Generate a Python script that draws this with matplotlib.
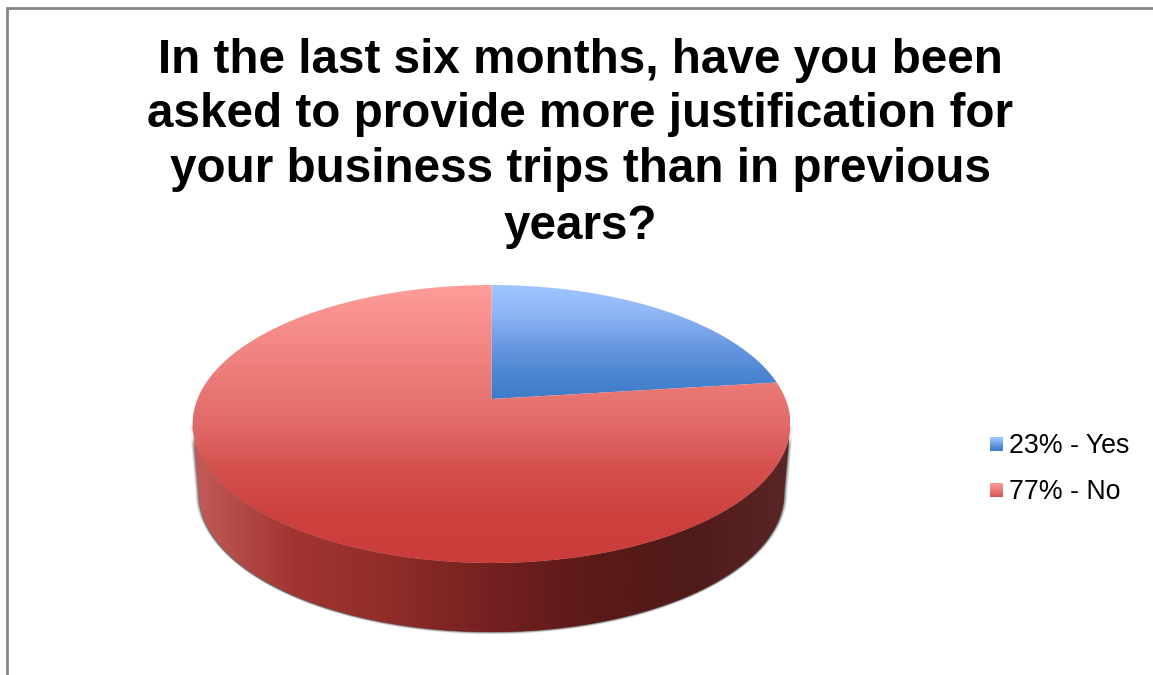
import matplotlib
matplotlib.use('Agg')
import matplotlib.pyplot as plt
from matplotlib.colors import LinearSegmentedColormap
from matplotlib.patches import Polygon
import numpy as np

title_lines = [
    'In the last six months, have you been',
    'asked to provide more justification for',
    'your business trips than in previous',
    'years?',
]
categories = ['Yes', 'No']
shares = [23, 77]

plt.rcParams['font.family'] = ['Liberation Sans', 'DejaVu Sans']

BLUE_TOP = ['#9fc5ff', '#8fb6f6', '#6d9be2', '#4f88d2', '#3d7cc9']
RED_TOP = ['#ff9d9b', '#f58b88', '#ec7b78', '#e26a68', '#d4504e', '#cd413e', '#cb3d3a']
RED_WALL = ['#c25c5a', '#a23532', '#8f2c29', '#742120', '#5c1a18', '#4f1a19', '#5a2625']

# pie geometry on the page, in pixels
CX, CY = 491.5, 424
RX, RY = 294, 139
RX_LOW = 288
TILT = 0.18
APEX_SHIFT = 25
DEPTH = 69


def project(theta, rx=RX, cy=CY):
    '''
    Perspective view of a flat disc. theta runs clockwise from 12 o'clock in radians.
    '''
    u, v = np.sin(theta), np.cos(theta)
    w = 1 + TILT * v
    return CX + rx * u / w, cy - (RY * v + APEX_SHIFT) / w


def gradient(ax, colors, extent, clip, horizontal=False):
    cmap = LinearSegmentedColormap.from_list('ramp', colors)
    ramp = np.linspace(0, 1, 256)
    ramp = ramp.reshape(1, -1) if horizontal else ramp.reshape(-1, 1)
    img = ax.imshow(ramp, cmap=cmap, extent=extent, aspect='auto', origin='upper', zorder=clip.get_zorder())
    ax.add_patch(clip)
    clip.set_visible(False)
    img.set_clip_path(clip)


def slice_patch(start, end):
    x, y = project(np.linspace(start, end, 300))
    pts = np.vstack([[CX, CY - APEX_SHIFT], np.column_stack([x, y])])
    return Polygon(pts, closed=True, zorder=5)


fig = plt.figure(figsize=(11.53, 6.75), dpi=100)
ax = fig.add_axes([0, 0, 1, 1])

# frame of the chart area, only top and left show
ax.plot([6.5, 6.5, 1153], [675, 8, 8], color='#868686', lw=2, solid_joinstyle='miter', zorder=1)

for line, baseline in zip(title_lines, [73, 127, 182, 239]):
    ax.text(580, baseline, line, ha='center', va='baseline', fontsize=34.3, fontweight='bold', color='black')

# side wall runs between the widest points of the two rims
widest = np.arccos(-TILT)
front = np.linspace(widest, 2 * np.pi - widest, 300)
top_x, top_y = project(front)
low_x, low_y = project(front[::-1], rx=RX_LOW, cy=CY + DEPTH)
wall_pts = np.column_stack([np.r_[top_x, low_x], np.r_[top_y, low_y]])

# soft shadow under the wall
for grow, alpha in zip([3, 2, 1], [0.18, 0.3, 0.4]):
    ax.add_patch(Polygon(wall_pts + [0, grow * 0.7], closed=True, fc='#555555', ec='none', alpha=alpha, zorder=2))
    ax.add_patch(Polygon(wall_pts + [grow, 0], closed=True, fc='#555555', ec='none', alpha=alpha, zorder=2))
    ax.add_patch(Polygon(wall_pts - [grow, 0], closed=True, fc='#555555', ec='none', alpha=alpha, zorder=2))

gradient(ax, RED_WALL, (192, 790, 640, 420), Polygon(wall_pts, closed=True, zorder=3), horizontal=True)

# top surface, slices are measured clockwise from 12 o'clock
fractions = np.cumsum([0] + shares) / sum(shares) * 2 * np.pi
gradient(ax, BLUE_TOP, (192, 790, 399, 285), slice_patch(fractions[0], fractions[1]))
gradient(ax, RED_TOP, (192, 790, 563, 285), slice_patch(fractions[1], fractions[2]))

# legend
legend_y = [444, 490]
legend_colors = [BLUE_TOP, RED_TOP[:5]]
for share, name, y, colors in zip(shares, categories, legend_y, legend_colors):
    box = Polygon([(990, y - 7), (1002.5, y - 7), (1002.5, y + 7), (990, y + 7)], closed=True, zorder=5)
    gradient(ax, colors, (990, 1002.5, y + 7, y - 7), box)
    ax.text(1009, y + 9, f'{share}% - {name}', ha='left', va='baseline', fontsize=19.3, color='black')

ax.set_xlim(0, 1153)
ax.set_ylim(675, 0)
ax.axis('off')

fig.savefig('out.png', dpi=100, facecolor='white')
